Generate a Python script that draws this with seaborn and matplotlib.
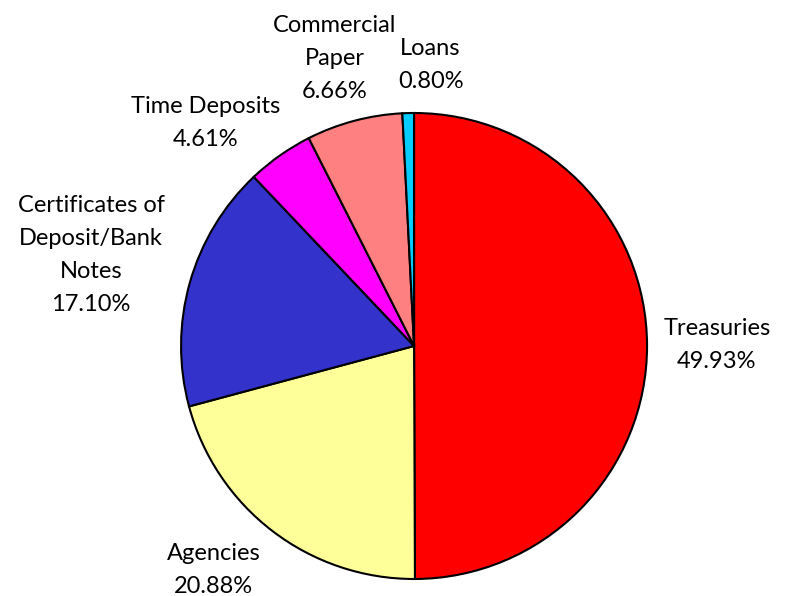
import numpy as np
import seaborn as sns
import matplotlib.pyplot as plt

# ---------------------------
# Data
# ---------------------------

categories = [
    "Treasuries",
    "Agencies",
    "Certificates of\nDeposit/Bank\nNotes",
    "Time Deposits",
    "Commercial\nPaper",
    "Loans",
]
shares = [49.93, 20.88, 17.10, 4.61, 6.66, 0.80]

colors = ["#FF0000", "#FFFF99", "#3333CC", "#FF00FF", "#FF8080", "#00CCFF"]

# label placement: (radius, angle nudge in degrees) per wedge
label_pos = [(1.30, 0.0), (1.29, -4.5), (1.44, 0.0), (1.31, 8.0), (1.28, 0.5), (1.21, -4.8)]

# ---------------------------
# Style
# ---------------------------

sns.set_theme(style="white")
plt.rcParams["font.family"] = ["Lato", "DejaVu Sans"]

fig = plt.figure(figsize=(7.92, 5.96), dpi=100)
ax = fig.add_axes([0, 0, 1, 1])

wedges, _ = ax.pie(
    shares,
    colors=colors,
    startangle=90,
    counterclock=False,
    radius=1.0,
    wedgeprops=dict(edgecolor="black", linewidth=1.5),
)

for w, name, val, (r, nudge) in zip(wedges, categories, shares, label_pos):
    mid = np.deg2rad((w.theta1 + w.theta2) / 2 + nudge)
    ax.text(
        r * np.cos(mid), r * np.sin(mid),
        f"{name}\n{val:.2f}%",
        ha="center", va="center",
        fontsize=17, color="black", linespacing=1.7,
    )

ax.set_aspect("equal")
ax.set_xlim(-1.777, 1.622)
ax.set_ylim(-1.073, 1.485)
ax.axis("off")

fig.savefig("out.png", dpi=100, facecolor="white")
